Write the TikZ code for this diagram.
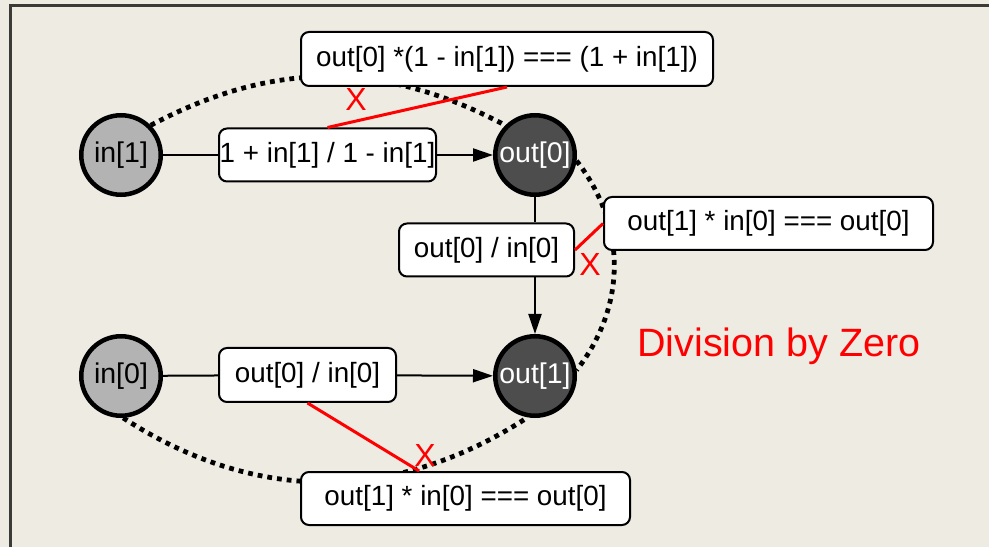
\documentclass[tikz,border=0pt]{standalone}
\usepackage{fontspec}
\setmainfont{Liberation Sans}
\usetikzlibrary{arrows.meta,backgrounds,calc}
\definecolor{bg}{HTML}{EEEBE3}
\definecolor{framecol}{HTML}{3B3A36}
\definecolor{ingray}{HTML}{B3B3B3}
\definecolor{outgray}{HTML}{4D4D4D}
\begin{document}
\begin{tikzpicture}[x=1pt,y=1pt,
  innode/.style={circle,draw=black,line width=4.5pt,fill=ingray,minimum size=79.5pt,inner sep=0pt,font=\fontsize{28.5}{33}\selectfont},
  outnode/.style={innode,fill=outgray,text=white},
  box/.style={draw=black,line width=2pt,fill=white,rounded corners=8pt,inner sep=0pt,font=\fontsize{27.8}{33}\selectfont},
  flow/.style={line width=2pt},
  flowarrow/.style={flow,-{Triangle[length=20pt,width=13pt]}},
  dots/.style={line width=4.8pt,dash pattern=on 4.8pt off 5pt},
  cross/.style={draw=red,line width=3pt},
  xmark/.style={text=red,font=\fontsize{32}{36}\selectfont,inner sep=0pt}
]
\useasboundingbox (0,0) rectangle (989,547);
% nodes
\node[innode]  (in1)  at (121,392) {in[1]};
\node[outnode] (out0) at (535,392) {out[0]};
\node[innode]  (in0)  at (121,171) {in[0]};
\node[outnode] (out1) at (535,171) {out[1]};
\node[box,minimum width=217pt,minimum height=53pt] (b1) at (327.5,392) {1 + in[1] / 1 - in[1]};
\node[box,minimum width=412pt,minimum height=54pt] (top) at (507,488) {out[0] *(1 - in[1]) === (1 + in[1])};
\node[box,minimum width=175pt,minimum height=53pt] (mid) at (486.5,297) {out[0] / in[0]};
\node[box,minimum width=329pt,minimum height=53pt] (right) at (768.5,323.5) {out[1] * in[0] === out[0]};
\node[box,minimum width=177pt,minimum height=54pt] (bl) at (307.5,172) {out[0] / in[0]};
\node[box,minimum width=329pt,minimum height=53pt] (bot) at (465.5,48.5) {out[1] * in[0] === out[0]};
\node[anchor=base west,text=red,font=\fontsize{39.5}{44}\selectfont,inner sep=0pt] (dz) at (637,190) {Division by Zero};
% background, frame and dotted arcs
\begin{pgfonlayer}{background}
  \fill[bg] (0,0) rectangle (989,547);
  \draw[framecol,line width=2.5pt] (10.5,0) -- (10.5,541.5) -- (989,541.5);
  \draw[dots] (in1.45) to[out=28,in=152] (out0.135);
  \draw[dots] (out0.-8) to[out=-52,in=52] (out1.8);
  \draw[dots] (in0.-87) to[out=-33,in=-147] (out1.-100);
\end{pgfonlayer}
% flow connectors
\draw[flow] (in1) -- (b1);
\draw[flowarrow] (b1) -- (out0);
\draw[flow] (out0) -- (out0 |- mid.north);
\draw[flowarrow] (mid.south -| out1) -- (out1);
\draw[flow] (in0) -- (bl);
\draw[flowarrow] (bl) -- (out1);
% red crossings
\coordinate (botx) at ($(bot.north west)!0.36!(bot.north east)$);
\draw[cross] (b1.north) -- (top.south);
\draw[cross] (mid.east) -- (right.west);
\draw[cross] (bl.south) -- (botx);
\node[xmark] (x1) at (356,448) {X};
\node[xmark] (x2) at (590,283) {X};
\node[xmark] (x3) at (425,92) {X};
\end{tikzpicture}
\end{document}
